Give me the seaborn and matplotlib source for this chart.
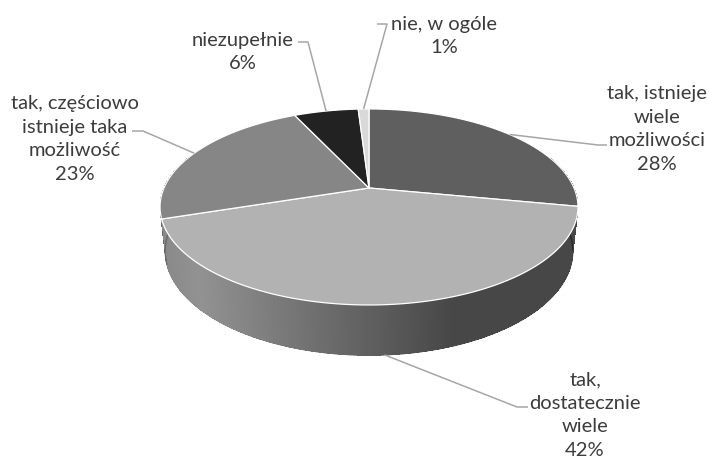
import numpy as np
import matplotlib
matplotlib.use("Agg")
import matplotlib.pyplot as plt
import seaborn as sns
from matplotlib.collections import PolyCollection, LineCollection
from matplotlib.patches import Polygon

# Survey answers and their shares (percent), in clockwise order from 12 o'clock
answers = [
    "tak, istnieje\nwiele\nmożliwości",
    "tak,\ndostatecznie\nwiele",
    "tak, częściowo\nistnieje taka\nmożliwość",
    "niezupełnie",
    "nie, w ogóle",
]
shares = [28, 42, 23, 6, 1]
slice_colors = ["#5f5f5f", "#b2b2b2", "#868686", "#222222", "#d9d9d9"]

sns.set_theme(style="white")
plt.rcParams["font.family"] = ["Lato", "DejaVu Sans"]

# perspective camera for the tilted disc (pixel space)
CX, CY = 369.0, 189.0
FOCAL, DIST = 941.0, 4.59
TILT = np.radians(27.4)
DEPTH = 0.245


def project(theta_deg, z=0.0, r=1.0):
    t = np.radians(theta_deg)
    x = r * np.cos(t)
    y = r * np.sin(t)
    s, c = np.sin(TILT), np.cos(TILT)
    den = DIST + y * c - z * s
    return CX + FOCAL * x / den, CY - FOCAL * (y * s + z * c) / den


fig = plt.figure(figsize=(7.1, 4.6), dpi=100)
ax = fig.add_axes([0, 0, 1, 1])
ax.set_xlim(0, 710)
ax.set_ylim(460, 0)
ax.axis("off")

total = float(sum(shares))
cum = np.cumsum([0] + shares) / total * 360.0
starts = 90.0 - cum[:-1]
ends = 90.0 - cum[1:]
mids = (starts + ends) / 2.0


def slice_of(theta):
    p = ((90.0 - theta) % 360.0)
    return int(np.searchsorted(cum, p, side="right") - 1)


def gray_value(hex_color):
    return int(hex_color[1:3], 16) / 255.0


def wall_shade(px):
    if px < 200:
        return 0.82 - 0.05 * np.clip((200 - px) / 35.0, 0, 1)
    return 0.82 - 0.42 * np.clip((px - 200) / 250.0, 0, 1)


# outer wall of the disc, drawn far-to-near
step = 0.25
thetas = np.arange(-200.0, 20.0, step)
quads, faces, rims, depth_keys = [], [], [], []
for t0 in thetas:
    t1 = t0 + step * 1.6
    tm = t0 + step / 2
    x0t, y0t = project(t0, 0.0)
    x1t, y1t = project(t1, 0.0)
    x1b, y1b = project(t1, -DEPTH)
    x0b, y0b = project(t0, -DEPTH)
    quads.append([(x0t, y0t), (x1t, y1t), (x1b, y1b), (x0b, y0b)])
    rims.append([(x0b, y0b), (x1b, y1b)])
    k = slice_of(tm)
    pxm, _ = project(tm, -DEPTH / 2)
    v = gray_value(slice_colors[k]) * wall_shade(pxm)
    faces.append((v, v, v))
    depth_keys.append(np.sin(np.radians(tm)))
order = np.argsort(depth_keys)[::-1]
ax.add_collection(PolyCollection([quads[i] for i in order],
                                 facecolors=[faces[i] for i in order],
                                 edgecolors="none", antialiased=False,
                                 zorder=1))
front = [i for i in order if depth_keys[i] < 0]
ax.add_collection(LineCollection([rims[i] for i in front],
                                 colors=[faces[i] for i in front],
                                 linewidths=0.8, zorder=1.5))

# top face slices
for k in range(len(shares)):
    arc = np.linspace(starts[k], ends[k], max(int(abs(starts[k] - ends[k]) * 2), 4))
    ax_, ay_ = project(arc, 0.0)
    pts = [(CX, CY)] + list(zip(ax_, ay_))
    ax.add_patch(Polygon(pts, closed=True, facecolor=slice_colors[k],
                         edgecolor="white", linewidth=0.9, zorder=2))

# labels with leader lines
label_pos = [(657, 129), (585, 415), (75, 139), (243, 52), (444, 36)]
elbows = [[(598, 146), (607, 146)],
          [(517, 408), (528, 408)],
          [(143, 132), (132, 132)],
          [(308, 43), (298, 43)],
          [(387, 25), (377, 25)]]
anchor_z = [0.0, -DEPTH, 0.0, 0.0, 0.0]
line_color = "#a6a6a6"
text_color = "#3c3c3c"
for k in range(len(shares)):
    axp, ayp = project(mids[k], anchor_z[k])
    xs = [axp] + [p[0] for p in elbows[k]]
    ys = [ayp] + [p[1] for p in elbows[k]]
    ax.plot(xs, ys, color=line_color, linewidth=1.1, zorder=3,
            solid_capstyle="butt")
    ax.text(label_pos[k][0], label_pos[k][1], f"{answers[k]}\n{shares[k]}%",
            ha="center", va="center", fontsize=14.5, color=text_color,
            linespacing=1.47, zorder=4)

fig.savefig("out.png", dpi=100, facecolor="white")
